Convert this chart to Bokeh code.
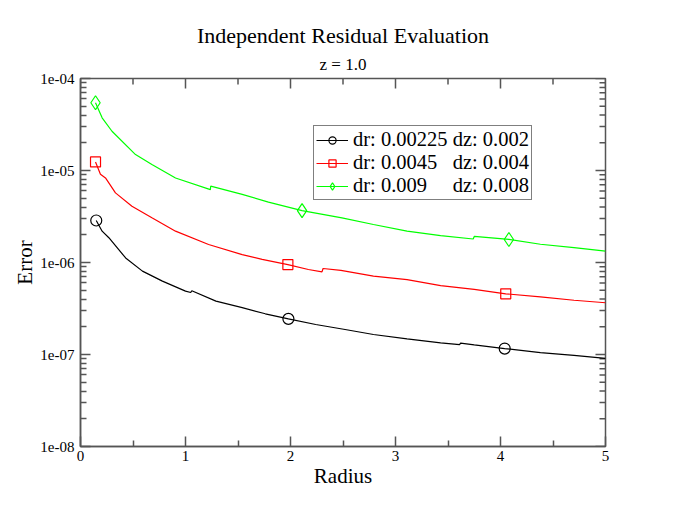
import math
from bokeh.plotting import figure
from bokeh.models import (FixedTicker, CustomJSTickFormatter, Legend, LegendItem, Title)
from bokeh.embed import file_html
from bokeh.resources import INLINE

# ---- data ----
black_r = [0.15, 0.206, 0.27, 0.43, 0.59, 0.78, 1.0, 1.05, 1.06, 1.29, 1.54, 1.76, 1.98,
           2.24, 2.52, 2.79, 3.11, 3.43, 3.61, 3.62, 3.75, 4.04, 4.38, 4.70, 5.0]
black_e = [2.86e-6, 2.19e-6, 1.86e-6, 1.12e-6, 8.06e-7, 6.27e-7, 4.88e-7, 4.72e-7, 4.93e-7,
           3.8e-7, 3.23e-7, 2.77e-7, 2.44e-7, 2.12e-7, 1.87e-7, 1.65e-7, 1.48e-7, 1.34e-7,
           1.28e-7, 1.33e-7, 1.27e-7, 1.16e-7, 1.05e-7, 9.8e-8, 9.06e-8]
black_mr = [0.15, 1.98, 4.04]
black_me = [2.86e-6, 2.44e-7, 1.16e-7]

red_r = [0.143, 0.19, 0.238, 0.333, 0.49, 0.68, 0.905, 1.22, 1.54, 1.73, 1.975, 2.17,
         2.30, 2.31, 2.48, 2.79, 3.11, 3.43, 3.75, 4.05, 4.38, 4.70, 5.0]
red_e = [1.24e-5, 9.1e-6, 8.3e-6, 5.71e-6, 4.09e-6, 3.06e-6, 2.19e-6, 1.57e-6, 1.22e-6,
         1.08e-6, 9.5e-7, 8.4e-7, 7.9e-7, 8.6e-7, 8.2e-7, 7.1e-7, 6.5e-7, 5.6e-7, 5.1e-7,
         4.57e-7, 4.24e-7, 3.89e-7, 3.65e-7]
red_mr = [0.143, 1.975, 4.05]
red_me = [1.24e-5, 9.5e-7, 4.57e-7]

green_r = [0.143, 0.206, 0.30, 0.524, 0.68, 0.905, 1.237, 1.24, 1.54, 1.79, 2.11, 2.49,
           2.79, 3.11, 3.43, 3.74, 3.75, 4.08, 4.38, 4.70, 5.0]
green_e = [5.45e-5, 3.74e-5, 2.67e-5, 1.49e-5, 1.16e-5, 8.3e-6, 6.2e-6, 6.75e-6, 5.5e-6,
           4.53e-6, 3.67e-6, 3.06e-6, 2.59e-6, 2.19e-6, 1.96e-6, 1.80e-6, 1.92e-6, 1.78e-6,
           1.58e-6, 1.45e-6, 1.33e-6]
green_mr = [0.143, 2.11, 4.08]
green_me = [5.45e-5, 3.67e-6, 1.78e-6]

labels = ["dr: 0.00225 dz: 0.002",
          "dr: 0.0045\u00a0\u00a0\u00a0dz: 0.004",
          "dr: 0.009\u00a0\u00a0\u00a0\u00a0\u00a0dz: 0.008"]

x_ticks = [0, 1, 2, 3, 4, 5]
x_minor = [0.5, 1.5, 2.5, 3.5, 4.5]
y_ticks = [1e-8, 1e-7, 1e-6, 1e-5, 1e-4]
y_minor = [m * 10.0 ** e for e in range(-8, -4) for m in range(2, 10)]
x_lo, x_hi = 0, 5
y_lo, y_hi = 1e-8, 1e-4

FONT = "Liberation Serif"
AX = "#555555"

p = figure(width=665, height=510, x_range=(x_lo, x_hi), y_range=(y_lo, y_hi),
           y_axis_type="log", output_backend="svg", toolbar_location=None,
           title=None, min_border_left=80, min_border_right=60,
           min_border_top=78, min_border_bottom=64)
p.grid.visible = False
p.outline_line_color = AX
p.outline_line_width = 1.5
p.background_fill_color = "white"
p.border_fill_color = "white"

fmt = CustomJSTickFormatter(code="""
const e = Math.round(Math.log10(tick));
const a = Math.abs(e);
return '1e' + (e < 0 ? '-' : '+') + (a < 10 ? '0' + a : '' + a);
""")

def style(ax):
    ax.axis_line_color = AX
    ax.axis_line_width = 1.5
    ax.major_tick_line_color = AX
    ax.minor_tick_line_color = AX
    ax.major_tick_line_width = 1.5
    ax.minor_tick_line_width = 1.5
    ax.major_tick_in = 10
    ax.major_tick_out = 0
    ax.minor_tick_in = 6
    ax.minor_tick_out = 0
    ax.major_label_text_font = FONT
    ax.major_label_text_color = "black"
    ax.major_label_text_font_size = "15px"
    ax.axis_label_text_font = FONT
    ax.axis_label_text_font_style = "normal"
    ax.axis_label_text_color = "black"
    ax.axis_label_text_font_size = "21px"

xa = p.xaxis[0]
xa.ticker = FixedTicker(ticks=x_ticks, minor_ticks=x_minor)
style(xa)
xa.major_label_standoff = 4
xa.axis_label = "Radius"
xa.axis_label_standoff = 0

ya = p.yaxis[0]
ya.ticker = FixedTicker(ticks=y_ticks, minor_ticks=y_minor)
ya.formatter = fmt
style(ya)
ya.major_label_standoff = 6
ya.axis_label = "Error"
ya.axis_label_standoff = 0

# mirrored ticks on the top and right edges (half of each dash is clipped by the frame)
p.scatter(x_ticks, [y_hi] * len(x_ticks), marker="dash", angle=math.pi / 2, size=20,
          line_color=AX, line_width=1.5)
p.scatter(x_minor, [y_hi] * len(x_minor), marker="dash", angle=math.pi / 2, size=12,
          line_color=AX, line_width=1.5)
p.scatter([x_hi] * len(y_ticks), y_ticks, marker="dash", size=20,
          line_color=AX, line_width=1.5)
p.scatter([x_hi] * len(y_minor), y_minor, marker="dash", size=12,
          line_color=AX, line_width=1.5)

p.add_layout(Title(text="z = 1.0", align="center", text_font=FONT,
                   text_font_size="17px", text_font_style="normal",
                   text_color="black"), "above")
p.add_layout(Title(text="Independent Residual Evaluation", align="center",
                   text_font=FONT, text_font_size="22px", text_font_style="normal",
                   text_color="black", standoff=-1), "above")

series = [
    (black_r, black_e, black_mr, black_me, "black", "circle", 11),
    (red_r, red_e, red_mr, red_me, "#ff0000", "square", 10),
    (green_r, green_e, green_mr, green_me, "#00ff00", "diamond", 14),
]
items = []
for (xr, ye, mr, me, col, mk, sz), lab in zip(series, labels):
    ln = p.line(xr, ye, line_color=col, line_width=1.2)
    sc = p.scatter(mr, me, marker=mk, size=sz, line_color=col, line_width=1.2,
                   fill_alpha=0)
    items.append(LegendItem(label=lab, renderers=[ln, sc]))

leg = Legend(items=items, location=(233, 246), label_text_font=FONT,
             label_text_font_size="20.5px", label_text_color="black",
             border_line_color="black", border_line_width=1,
             background_fill_alpha=1, glyph_width=32, glyph_height=18,
             label_height=18, label_standoff=5, spacing=0, padding=2, margin=0)
p.add_layout(leg, "center")

open("out.html", "w").write(file_html(p, INLINE))
